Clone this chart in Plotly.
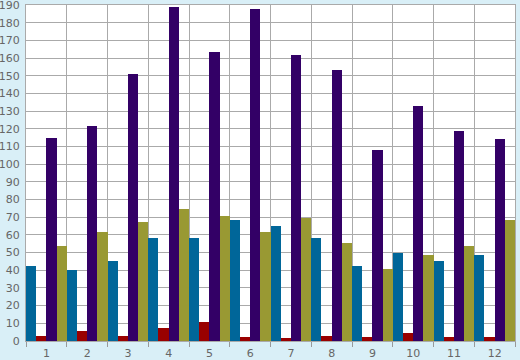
import plotly.graph_objects as go

categories = [str(i) for i in range(1, 13)]
blue_vals = [42.5, 40, 45.5, 58, 58.5, 68.5, 65, 58.5, 42.5, 49.5, 45.5, 48.5]
red_vals = [3, 5.5, 3, 7.5, 10.5, 2, 1.5, 3, 2, 4.5, 2, 2]
purple_vals = [115, 121.5, 151, 189, 163.5, 188, 161.5, 153.5, 108, 133, 119, 114.5]
olive_vals = [53.5, 61.5, 67.5, 74.5, 70.5, 61.5, 69.5, 55.5, 40.5, 48.5, 53.5, 68.5]

series = [
    ("Blue", blue_vals, "#006699"),
    ("Red", red_vals, "#990000"),
    ("Purple", purple_vals, "#330066"),
    ("Olive", olive_vals, "#999933"),
]

fig = go.Figure()
for name, vals, color in series:
    fig.add_trace(go.Bar(x=categories, y=vals, name=name,
                         marker=dict(color=color, line=dict(width=0))))

fig.update_layout(
    width=520, height=360,
    margin=dict(l=26, r=5, t=5, b=19, autoexpand=False),
    paper_bgcolor="#d9eff7",
    plot_bgcolor="#ffffff",
    barmode="group", bargap=0, bargroupgap=0,
    showlegend=False,
    font=dict(family="DejaVu Sans", size=11, color="#666666"),
)
fig.update_xaxes(
    type="category", tickson="boundaries", ticks="outside", ticklen=5,
    tickcolor="#999999", showgrid=True, gridcolor="#aaaaaa", gridwidth=1,
    showline=True, linecolor="#aaaaaa", linewidth=1, mirror=True,
    automargin=False, ticklabelstandoff=2, ticklabeloverflow="allow",
)
fig.update_yaxes(
    range=[0, 190.05], dtick=10, tick0=0, showgrid=True, gridcolor="#aaaaaa",
    gridwidth=1, showline=True, linecolor="#aaaaaa", linewidth=1, mirror=True,
    ticks="", zeroline=False, ticklabelstandoff=3, automargin=False,
    ticklabeloverflow="allow",
)
fig.write_html(
    "out.html",
    config={"displayModeBar": False},
    post_script="document.body.style.margin='0';document.body.style.overflow='hidden';",
)
